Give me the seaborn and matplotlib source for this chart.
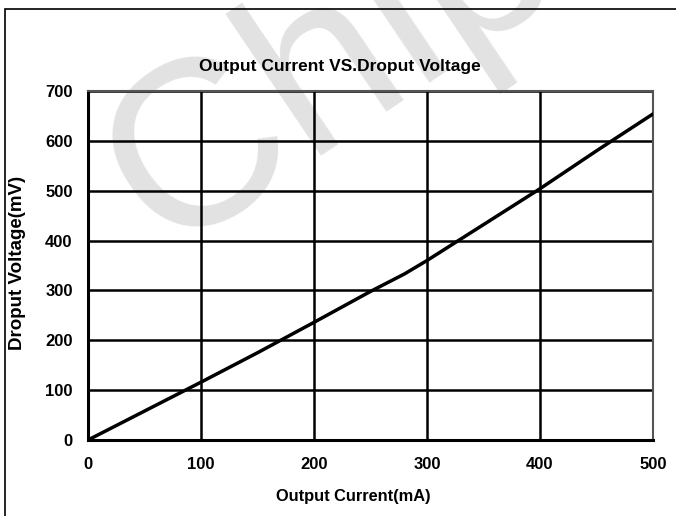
import matplotlib
matplotlib.use('Agg')
import matplotlib.pyplot as plt
import seaborn as sns
import pandas as pd
from matplotlib.patches import Rectangle

# Data
current_ma = [0, 50, 100, 150, 200, 250, 280, 300, 350, 400, 450, 500]
dropout_mv = [0, 58, 116, 175, 236, 298, 333, 360, 432, 504, 580, 654]
x_ticks = [0, 100, 200, 300, 400, 500]
y_ticks = [0, 100, 200, 300, 400, 500, 600, 700]

df = pd.DataFrame({'current': current_ma, 'dropout': dropout_mv})

sns.set_style('white')
plt.rcParams['font.family'] = ['Liberation Sans', 'DejaVu Sans']
plt.rcParams['font.weight'] = 'bold'
plt.rcParams['text.color'] = 'black'
plt.rcParams['xtick.color'] = 'black'
plt.rcParams['ytick.color'] = 'black'

fig = plt.figure(figsize=(6.76, 5.16), dpi=100)
ax = fig.add_axes([88 / 676, 1 - 440 / 516, (653 - 88) / 676, (440 - 91) / 516])
ax.set_facecolor('none')

# Outer frame of the figure (only left and top edges visible)
fig.patches.append(Rectangle((5 / 676, -0.05), 1.1, 1 - 9 / 516 + 0.05,
                             transform=fig.transFigure, fill=False,
                             edgecolor='black', linewidth=1.2, zorder=0))

# Faint watermark
fig.text(0.49, 0.87, 'Chip', fontsize=170, color='#e2e2e2', rotation=34,
         ha='center', va='center', fontweight='normal', zorder=-1,
         family='Liberation Sans')

sns.lineplot(data=df, x='current', y='dropout', ax=ax, color='black',
             linewidth=2.5, zorder=5)

ax.set_xlim(0, 500)
ax.set_ylim(0, 700)
ax.set_xticks(x_ticks)
ax.set_yticks(y_ticks)
ax.grid(True, color='black', linewidth=1.8)
ax.tick_params(axis='x', length=0, labelsize=12, pad=12)
ax.tick_params(axis='y', length=0, labelsize=12, pad=11)
for lbl in ax.get_xticklabels() + ax.get_yticklabels():
    lbl.set_fontweight('bold')

for side in ['left', 'bottom']:
    ax.spines[side].set_color('black')
    ax.spines[side].set_linewidth(2.2)
for side in ['top', 'right']:
    ax.spines[side].set_color('#555555')
    ax.spines[side].set_linewidth(1.5)

ax.set_xlabel('')
ax.set_ylabel('')
fig.text(340 / 676, 1 - 66 / 516, 'Output Current VS.Droput Voltage',
         ha='center', va='center', fontsize=12.5, fontweight='bold')
fig.text(353 / 676, 1 - 497 / 516, 'Output Current(mA)',
         ha='center', va='center', fontsize=11.8, fontweight='bold')
fig.text(18 / 676, 1 - 263 / 516, 'Droput Voltage(mV)', rotation=90,
         ha='center', va='center', fontsize=13.5, fontweight='bold')

fig.savefig('out.png', dpi=100)
